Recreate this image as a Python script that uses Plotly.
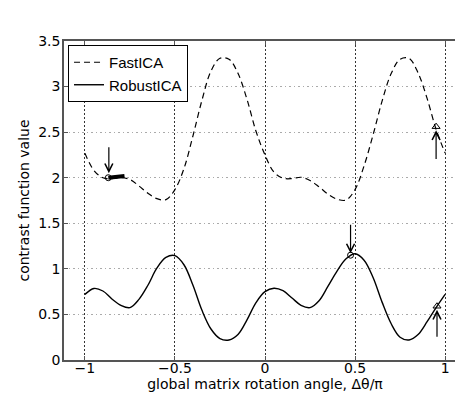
import plotly.graph_objects as go

# rotation angle grid (units of pi)
angle = [-1.00, -0.95, -0.90, -0.85, -0.80, -0.75, -0.70, -0.65, -0.60, -0.55,
         -0.50, -0.45, -0.40, -0.35, -0.30, -0.25, -0.20, -0.15, -0.10, -0.05,
         0.00, 0.05, 0.10, 0.15, 0.20, 0.25, 0.30, 0.35, 0.40, 0.45,
         0.50, 0.55, 0.60, 0.65, 0.70, 0.75, 0.80, 0.85, 0.90, 0.95, 1.00]

fastica = [2.27, 2.08, 2.00, 1.99, 2.00, 1.98, 1.91, 1.83, 1.77, 1.76,
           1.87, 2.10, 2.46, 2.85, 3.17, 3.31, 3.30, 3.145, 2.86, 2.51,
           2.25, 2.06, 1.995, 1.99, 2.005, 1.97, 1.90, 1.82, 1.765, 1.755,
           1.87, 2.13, 2.47, 2.84, 3.14, 3.30, 3.31, 3.15, 2.87, 2.53, 2.27]

robustica = [0.72, 0.785, 0.757, 0.67, 0.60, 0.575, 0.665, 0.82, 1.01, 1.125,
             1.145, 1.045, 0.82, 0.545, 0.34, 0.235, 0.22, 0.28, 0.44, 0.63,
             0.75, 0.787, 0.76, 0.68, 0.60, 0.575, 0.65, 0.81, 0.975, 1.11,
             1.165, 1.095, 0.905, 0.635, 0.40, 0.25, 0.22, 0.28, 0.42, 0.575, 0.72]

# FastICA iteration path (thick segment)
fast_path_x = [-0.87, -0.78]
fast_path_y = [2.00, 2.02]

# start (circle) and end (triangle) points
start_x = [-0.87, 0.475]
start_y = [2.00, 1.15]
end_x = [0.95, 0.955]
end_y = [2.56, 0.59]

# arrows: head and tail
arrow_head_x = [-0.867, 0.95, 0.475, 0.955]
arrow_head_y = [2.05, 2.52, 1.17, 0.55]
arrow_tail_y = [2.35, 2.19, 1.50, 0.24]

xticks = [-1, -0.5, 0, 0.5, 1]
yticks = [0, 0.5, 1, 1.5, 2, 2.5, 3, 3.5]

font = "DejaVu Sans, Liberation Sans, Arial, sans-serif"
legend_font = "Liberation Sans, Arial, sans-serif"

fig = go.Figure()

fig.add_trace(go.Scatter(x=angle, y=fastica, mode='lines', name='FastICA',
                         line=dict(color='black', width=1.2, dash='6px,4px',
                                   shape='spline', smoothing=1.0)))
fig.add_trace(go.Scatter(x=angle, y=robustica, mode='lines', name='RobustICA',
                         line=dict(color='black', width=1.4,
                                   shape='spline', smoothing=1.0)))
fig.add_trace(go.Scatter(x=fast_path_x, y=fast_path_y, mode='lines',
                         line=dict(color='black', width=4), showlegend=False))
fig.add_trace(go.Scatter(x=start_x, y=start_y, mode='markers', showlegend=False,
                         marker=dict(symbol='circle-open', size=6, color='black',
                                     line=dict(width=1))))
fig.add_trace(go.Scatter(x=end_x, y=end_y, mode='markers', showlegend=False,
                         marker=dict(symbol='triangle-up-open', size=7, color='black',
                                     line=dict(width=1))))

for hx, hy, ty in zip(arrow_head_x, arrow_head_y, arrow_tail_y):
    fig.add_annotation(x=hx, y=hy, ax=hx, ay=ty, xref='x', yref='y',
                       axref='x', ayref='y', text='', showarrow=True,
                       arrowhead=5, arrowsize=1.3, arrowwidth=1.2,
                       arrowcolor='black')

fig.update_layout(
    width=463, height=393,
    margin=dict(l=56, r=3, t=33, b=41),
    paper_bgcolor='white', plot_bgcolor='white',
    font=dict(family=font, size=14, color='black'),
    legend=dict(x=0.01, y=0.9875, xanchor='left', yanchor='top',
                bgcolor='white', bordercolor='black', borderwidth=1,
                font=dict(family=legend_font, size=15), itemwidth=30,
                tracegroupgap=0),
    xaxis=dict(range=[-1.116, 1.116], tickvals=xticks,
               ticks='inside', ticklen=4, tickcolor='#555', mirror='ticks',
               showline=True, linecolor='#555', linewidth=1.5,
               showgrid=True, gridcolor='#333', griddash='1.5px,2.5px', gridwidth=1,
               zeroline=False, ticklabelstandoff=-6,
               title=dict(text='global matrix rotation angle, Δθ/π', standoff=2,
                          font=dict(size=14))),
    yaxis=dict(range=[0, 3.5], tickvals=yticks,
               ticks='inside', ticklen=4, tickcolor='#555', mirror='ticks',
               showline=True, linecolor='#555', linewidth=1.5,
               showgrid=True, gridcolor='#aaa', griddash='1.5px,3px', gridwidth=1,
               zeroline=False, ticklabelstandoff=-1,
               title=dict(text='contrast function value', standoff=5,
                          font=dict(size=14))),
)

fig.write_html("out.html")
